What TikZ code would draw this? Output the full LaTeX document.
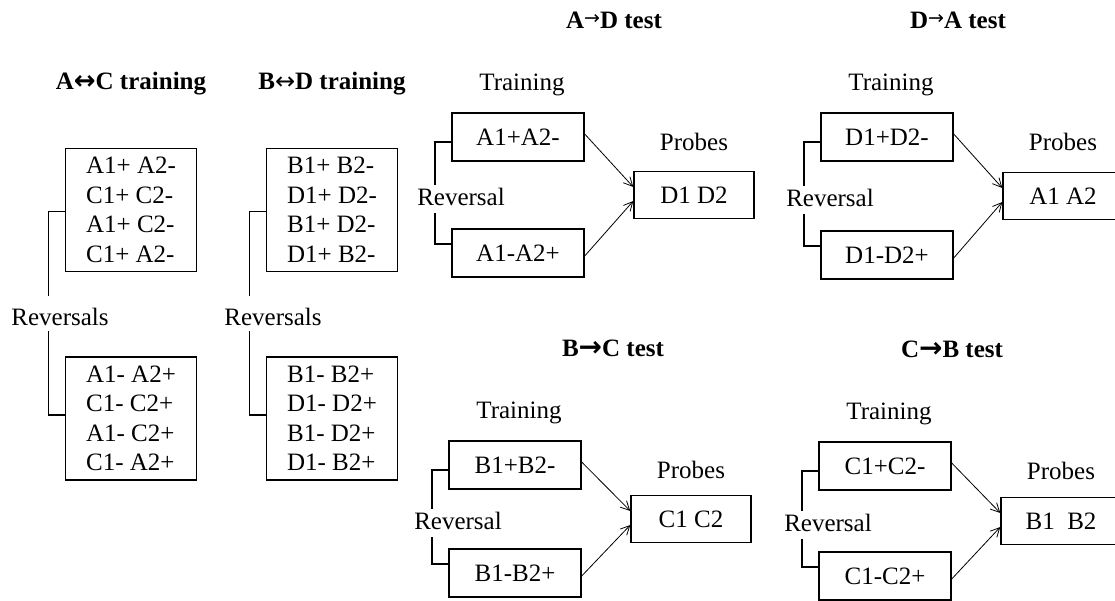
\documentclass[tikz,border=0pt]{standalone}
\usepackage{fontspec}
\setmainfont{Liberation Serif}
\newfontfamily\arrowfont{DejaVu Sans}
\usetikzlibrary{arrows.meta}

\tikzset{
  pairbox/.style={draw,line width=1.4pt,minimum width=132pt,minimum height=48pt,inner sep=0pt},
  listbox/.style={draw,line width=1.4pt,minimum width=131pt,minimum height=123pt,inner sep=0pt,align=left},
  lbl/.style={inner sep=0pt,text height=16.5pt,text depth=0pt},
  head/.style={lbl,font=\fontsize{25}{29.5}\selectfont\bfseries},
  bracket/.style={line width=1.2pt},
  link/.style={line width=0.8pt,-{Straight Barb[length=9pt,width=9pt]}}
}

\newcommand{\thickarrow}[1]{{\arrowfont\bfseries\fontsize{#1}{#1}\selectfont →}}
\newcommand{\thinarrow}{{\mdseries\arrowfont\raisebox{4pt}{\fontsize{19}{19}\selectfont →}}}

\begin{document}
\begin{tikzpicture}[x=1pt,y=-1pt,font=\fontsize{25}{29.5}\selectfont]
\useasboundingbox (0,0) rectangle (1115,600);

% #1 name, #2 x of boxes, #3 title, #4 top list, #5 reversed list, #6 shift of label
\newcommand{\trainpanel}[6]{
  \node[head] (#1t) at (#2,81.5) {#3};
  \node[listbox] (#1a) at (#2,210) {#4};
  \node[listbox] (#1b) at (#2,418.5) {#5};
  \node[lbl] (#1r) at (#2+#6,317) {Reversals};
  \coordinate (#1u) at (#2-82.5,295.5);
  \coordinate (#1d) at (#2-82.5,330.5);
  \draw[bracket] ([yshift=-1.5pt]#1a.west) -| (#1u);
  \draw[bracket] ([yshift=3.5pt]#1b.west) -| (#1d);
}

% #1 name, #2 #3 centre of first box, #4 gap, #5 #6 training, #7 probes, #8 title, #9 title shift
\newcommand{\testpanel}[9]{
  \node[head] (#1t) at (#2+#9,#3-117) {#8};
  \node[lbl] (#1l) at (#2+4,#3-55) {Training};
  \node[pairbox] (#1a) at (#2,#3) {#5};
  \node[pairbox] (#1b) at (#2,#3+#4) {#6};
  \node[pairbox,minimum width=120pt,minimum height=47pt] (#1p) at (#2+176,#3+#4/2) {#7};
  \node[lbl] (#1q) at (#2+176,#3+5) {Probes};
  \node[lbl] (#1r) at (#2-57,#3+#4/2+2) {Reversal};
  \coordinate (#1u) at (#2-83,#3+#4/2-10);
  \coordinate (#1d) at (#2-83,#3+#4/2+18);
  \draw[bracket] ([yshift=-5pt]#1a.west) -| (#1u);
  \draw[bracket] ([yshift=9pt]#1b.west) -| (#1d);
  \draw[link] ([yshift=3pt]#1a.east) -- ([yshift=8pt]#1p.west);
  \draw[link] ([yshift=-3pt]#1b.east) -- ([yshift=-6pt]#1p.west);
}

% training columns
\trainpanel{ac}{131}{A{\arrowfont\bfseries\fontsize{26}{26}\selectfont ↔}C training}{A1+ A2-\\C1+ C2-\\A1+ C2-\\C1+ A2-}{A1- A2+\\C1- C2+\\A1- C2+\\C1- A2+}{-71}
\trainpanel{bd}{332}{B{\mdseries\arrowfont\fontsize{24}{24}\selectfont ↔}D training}{B1+ B2-\\D1+ D2-\\B1+ D2-\\D1+ B2-}{B1- B2+\\D1- D2+\\B1- D2+\\D1- B2+}{-59}

% tests
\testpanel{ad}{518}{137}{116}{A1+A2-}{A1-A2+}{D1 D2}{A\thinarrow D test}{96}
\testpanel{da}{887}{137}{118}{D1+D2-}{D1-D2+}{A1 A2}{D\thinarrow A test}{71}
\testpanel{bc}{515}{465}{108}{B1+B2-}{B1-B2+}{C1 C2}{B\thickarrow{28}C test}{98}
\testpanel{cb}{885}{466}{110}{C1+C2-}{C1-C2+}{B1\enspace B2}{C\thickarrow{28}B test}{67}
\end{tikzpicture}
\end{document}
